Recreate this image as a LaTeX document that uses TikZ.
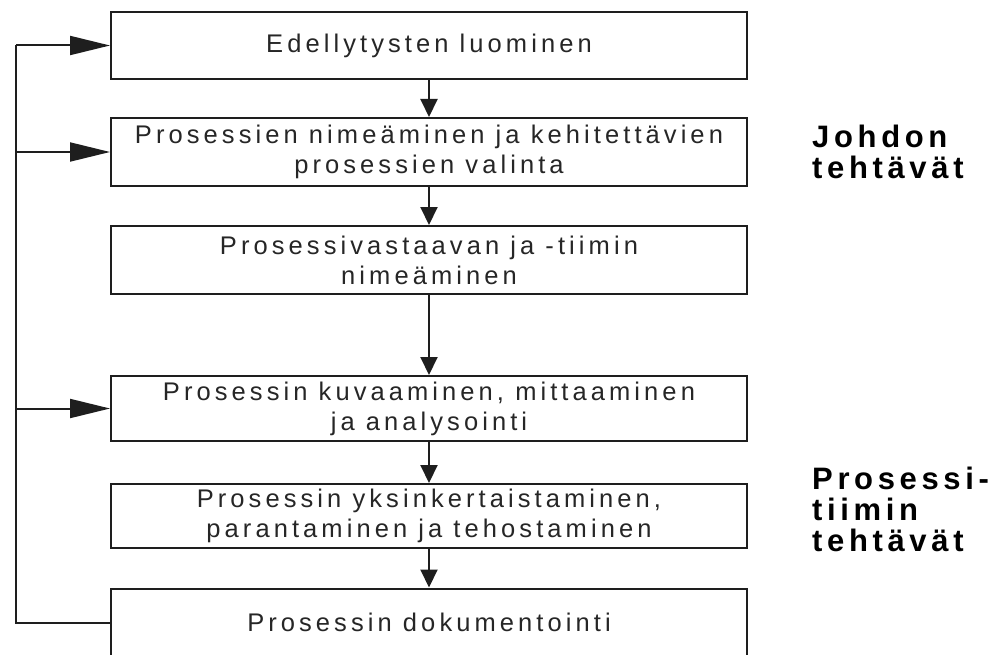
\documentclass[tikz,border=0pt]{standalone}
\usepackage{fontspec}
\setmainfont{Liberation Sans}[LetterSpace=16]
\usetikzlibrary{arrows.meta}
\definecolor{linec}{HTML}{1E1E1E}
\definecolor{txt}{HTML}{262626}
\begin{document}
\begin{tikzpicture}[x=1pt,y=-1pt,
  stage/.style={draw=linec, line width=2pt, minimum width=636pt, inner sep=0pt,
    align=center, text=txt, font=\fontsize{25.5}{30}\selectfont},
  flow/.style={draw=linec, line width=2pt, -{Triangle[length=18pt,width=17pt]}},
  feed/.style={draw=linec, line width=2pt, -{Triangle[length=40pt,width=19pt]}},
  rail/.style={draw=linec, line width=2pt, line join=miter},
  role/.style={anchor=west, inner sep=0pt, align=left, text=black,
    font=\fontsize{31}{31}\selectfont\bfseries\addfontfeature{LetterSpace=15}}]
  % page area
  \fill[white] (0,0) rectangle (1000,655);
  \useasboundingbox (0,0) rectangle (1000,655);

  % process stages
  \node[stage, minimum height=67pt] (s1) at (429,45.5) {Edellytysten luominen};
  \node[stage, minimum height=68pt] (s2) at (429,152) {Prosessien nimeäminen ja kehitettävien\\prosessien valinta};
  \node[stage, minimum height=68pt] (s3) at (429,260) {Prosessivastaavan ja -tiimin\\nimeäminen};
  \node[stage, minimum height=65pt] (s4) at (429,408.5) {Prosessin kuvaaminen, mittaaminen\\ja analysointi};
  \node[stage, minimum height=64pt] (s5) at (429,516) {Prosessin yksinkertaistaminen,\\parantaminen ja tehostaminen};
  \node[stage, minimum height=68pt] (s6) at (429,622.5) {Prosessin dokumentointi};

  % forward flow
  \draw[flow] (s1) -- (s2);
  \draw[flow] (s2) -- (s3);
  \draw[flow] (s3) -- (s4);
  \draw[flow] (s4) -- (s5);
  \draw[flow] (s5) -- (s6);

  % feedback rail on the left
  \coordinate (railtop) at (16,45.5);
  \coordinate (railbot) at (16,622.5);
  \draw[rail] (s6.west) -- (railbot) -- (railtop);
  \draw[feed] (railtop) -- (s1.west);
  \draw[feed] (railtop |- s2.west) -- (s2.west);
  \draw[feed] (railtop |- s4.west) -- (s4.west);

  % responsibility labels
  \node[role] (mgmt) at (812,152) {Johdon\\tehtävät};
  \node[role] (team) at (812,509.5) {Prosessi-\\tiimin\\tehtävät};
\end{tikzpicture}
\end{document}
